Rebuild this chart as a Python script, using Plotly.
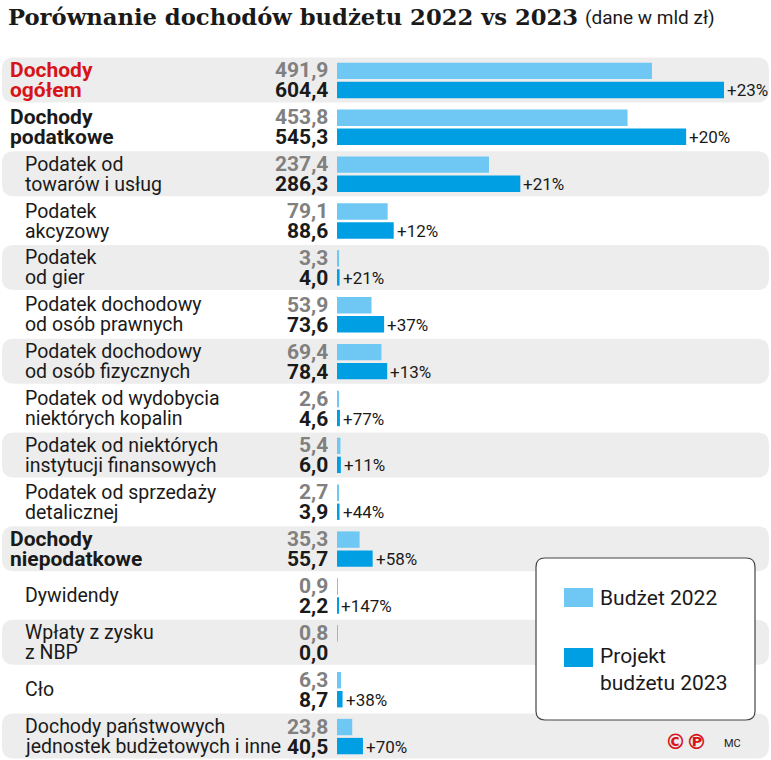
import plotly.graph_objects as go

# ---------------- data ----------------
row_keys = ["r01", "r02", "r03", "r04", "r05", "r06", "r07", "r08",
            "r09", "r10", "r11", "r12", "r13", "r14", "r15"]
label_lines = [
    ["Dochody", "ogółem"],
    ["Dochody", "podatkowe"],
    ["Podatek od", "towarów i usług"],
    ["Podatek", "akcyzowy"],
    ["Podatek", "od gier"],
    ["Podatek dochodowy", "od osób prawnych"],
    ["Podatek dochodowy", "od osób fizycznych"],
    ["Podatek od wydobycia", "niektórych kopalin"],
    ["Podatek od niektórych", "instytucji finansowych"],
    ["Podatek od sprzedaży", "detalicznej"],
    ["Dochody", "niepodatkowe"],
    ["Dywidendy"],
    ["Wpłaty z zysku", "z NBP"],
    ["Cło"],
    ["Dochody państwowych", "jednostek budżetowych i inne"],
]
label_level = [0, 1, 2, 2, 2, 2, 2, 2, 2, 2, 1, 2, 2, 2, 2]
budget_2022 = [491.9, 453.8, 237.4, 79.1, 3.3, 53.9, 69.4, 2.6, 5.4, 2.7, 35.3, 0.9, 0.8, 6.3, 23.8]
project_2023 = [604.4, 545.3, 286.3, 88.6, 4.0, 73.6, 78.4, 4.6, 6.0, 3.9, 55.7, 2.2, 0.0, 8.7, 40.5]
change_labels = ["+23%", "+20%", "+21%", "+12%", "+21%", "+37%", "+13%", "+77%",
                 "+11%", "+44%", "+58%", "+147%", "", "+38%", "+70%"]
series_names = ["Budżet 2022", "Projekt budżetu 2023"]
legend_lines = [["Budżet 2022"], ["Projekt", "budżetu 2023"]]
title_text = "Porównanie dochodów budżetu 2022 vs 2023"
subtitle_text = "(dane w mld zł)"

# ---------------- style ----------------
W, H = 771, 760
TOP = 57
C_LIGHT = "#6ec8f3"
C_DARK = "#009fe3"
C_BAND = "#ededed"
C_RED = "#d7141a"
C_GRAY = "#808080"
C_TEXT = "#1a1a1a"
FONT = "Roboto"
X0_PX = 337          # pixel where value 0 sits
SCALE = 387 / 604.4  # px per unit

def fmt(v):
    return f"{v:.1f}".replace(".", ",")

def xp(px):
    return px / W

def yp(py):
    return (H - py) / (H - TOP)

fig = go.Figure()
fig.add_trace(go.Bar(y=row_keys, x=budget_2022, orientation="h", name=series_names[0],
                     marker=dict(color=C_LIGHT, line=dict(width=0)), showlegend=False,
                     hoverinfo="x"))
fig.add_trace(go.Bar(y=row_keys, x=project_2023, orientation="h", name=series_names[1],
                     marker=dict(color=C_DARK, line=dict(width=0)), showlegend=False,
                     hoverinfo="x"))

shapes = []
annotations = []

def rounded_path(x0, x1, y0, y1, rx, ry):
    return (f"M {x0+rx},{y0} L {x1-rx},{y0} Q {x1},{y0} {x1},{y0+ry} "
            f"L {x1},{y1-ry} Q {x1},{y1} {x1-rx},{y1} L {x0+rx},{y1} "
            f"Q {x0},{y1} {x0},{y1-ry} L {x0},{y0+ry} Q {x0},{y0} {x0+rx},{y0} Z")

row_px = (H - TOP) / len(row_keys)
for i, key in enumerate(row_keys):
    if i % 2 == 0:
        y0, y1 = i - 0.5 + 0.01, i + 0.47
        shapes.append(dict(type="path", xref="paper", yref="y",
                           path=rounded_path(xp(2), xp(769), y0, y1, xp(12), 12 / row_px),
                           fillcolor=C_BAND, line=dict(width=0), layer="below"))
    # labels
    lines = label_lines[i]
    lvl = label_level[i]
    lx = 8 if lvl < 2 else 23
    color = C_RED if lvl == 0 else C_TEXT
    size = 21 if lvl < 2 else 19.5
    shifts = [0] if len(lines) == 1 else [10, -10]
    for line, sh in zip(lines, shifts):
        txt = f"<b>{line}</b>" if lvl < 2 else line
        annotations.append(dict(x=xp(lx), xref="paper", y=key, yref="y", yshift=sh,
                                text=txt, showarrow=False, xanchor="left", yanchor="middle",
                                font=dict(family=FONT, size=size, color=color)))
    # values
    annotations.append(dict(x=xp(330), xref="paper", y=key, yref="y", yshift=10,
                            text=f"<b>{fmt(budget_2022[i])}</b>", showarrow=False,
                            xanchor="right", yanchor="middle",
                            font=dict(family=FONT, size=21, color=C_GRAY)))
    annotations.append(dict(x=xp(330), xref="paper", y=key, yref="y", yshift=-10,
                            text=f"<b>{fmt(project_2023[i])}</b>", showarrow=False,
                            xanchor="right", yanchor="middle",
                            font=dict(family=FONT, size=21, color=C_TEXT)))
    if change_labels[i]:
        annotations.append(dict(x=project_2023[i], xref="x", y=key, yref="y", yshift=-10,
                                xshift=1, text=change_labels[i], showarrow=False,
                                xanchor="left", yanchor="middle",
                                font=dict(family=FONT, size=17, color=C_TEXT)))

# legend box
shapes.append(dict(type="path", xref="paper", yref="paper",
                   path=rounded_path(xp(536), xp(755), yp(720), yp(558), xp(9), 9 / (H - TOP)),
                   fillcolor="white", line=dict(color="#444444", width=1.2), layer="below"))
for (top, bot), col in zip([(588, 607), (648, 667)], [C_LIGHT, C_DARK]):
    shapes.append(dict(type="rect", xref="paper", yref="paper",
                       x0=xp(564), x1=xp(593), y0=yp(bot), y1=yp(top),
                       fillcolor=col, line=dict(width=0), layer="below"))
for lines, ys in zip(legend_lines, [[598], [656, 683]]):
    for line, py in zip(lines, ys):
        annotations.append(dict(x=xp(598), xref="paper", y=yp(py), yref="paper",
                                text=line, showarrow=False, xanchor="left", yanchor="middle",
                                font=dict(family=FONT, size=21, color=C_TEXT)))

# title
annotations.append(dict(x=xp(6), xref="paper", y=yp(17), yref="paper", text=f"<b>{title_text}</b>",
                        showarrow=False, xanchor="left", yanchor="middle",
                        font=dict(family="DejaVu Serif", size=22.7, color=C_TEXT)))
annotations.append(dict(x=xp(583), xref="paper", y=yp(18), yref="paper", text=subtitle_text,
                        showarrow=False, xanchor="left", yanchor="middle",
                        font=dict(family=FONT, size=19, color=C_TEXT)))
# credits
annotations.append(dict(x=xp(663), xref="paper", y=yp(742), yref="paper", text="<b>©℗</b>",
                        showarrow=False, xanchor="left", yanchor="middle",
                        font=dict(family="DejaVu Sans", size=21, color=C_RED)))
annotations.append(dict(x=xp(722), xref="paper", y=yp(743), yref="paper", text="MC",
                        showarrow=False, xanchor="left", yanchor="middle",
                        font=dict(family=FONT, size=11, color=C_TEXT)))

fig.update_layout(
    width=W, height=H,
    margin=dict(l=0, r=0, t=TOP, b=0, pad=0),
    paper_bgcolor="white", plot_bgcolor="rgba(0,0,0,0)",
    barmode="group", bargap=0.188, bargroupgap=0.138,
    xaxis=dict(range=[-X0_PX / SCALE, (W - X0_PX) / SCALE], visible=False, fixedrange=True),
    yaxis=dict(type="category", categoryorder="array", categoryarray=row_keys,
               range=[len(row_keys) - 0.5, -0.5], visible=False, fixedrange=True),
    shapes=shapes, annotations=annotations,
    font=dict(family=FONT),
)

fig.write_html("out.html", post_script="document.body.style.margin='0';",
               config={"displayModeBar": False})
